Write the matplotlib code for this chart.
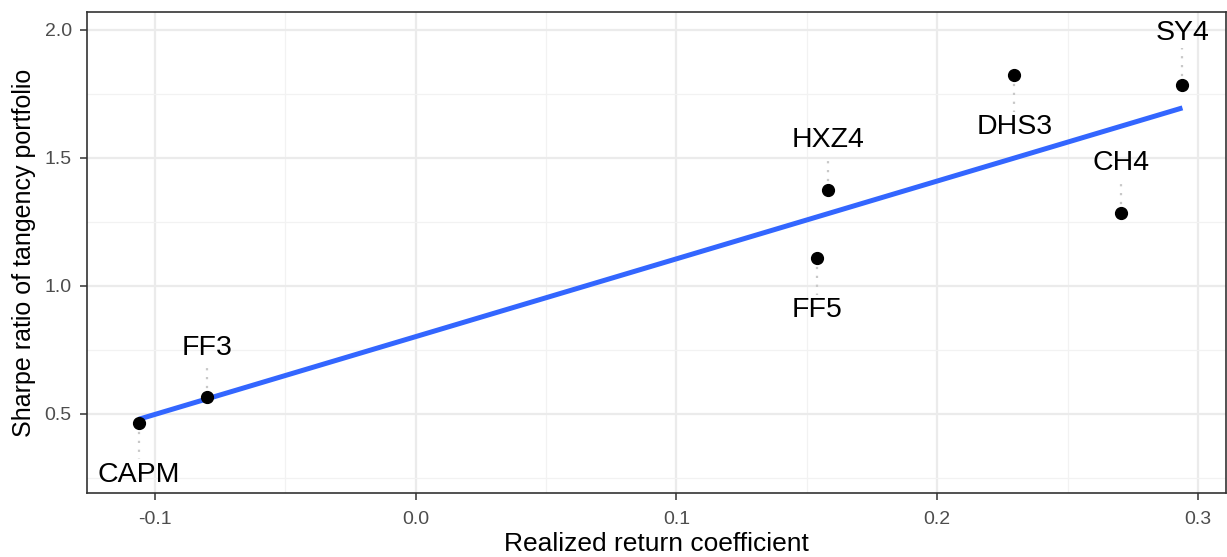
import numpy as np
import matplotlib
matplotlib.use("Agg")
import matplotlib.pyplot as plt
from matplotlib.ticker import MultipleLocator

plt.rcParams['font.family'] = ['Liberation Sans', 'DejaVu Sans']

# factor models: realized return coefficient vs. tangency Sharpe ratio
models = ["CAPM", "FF3", "FF5", "HXZ4", "DHS3", "CH4", "SY4"]
realized_coef = [-0.106, -0.080, 0.154, 0.158, 0.2295, 0.2705, 0.294]
sharpe = [0.465, 0.566, 1.109, 1.375, 1.824, 1.285, 1.785]
# repelled label heights
label_y = [0.262, 0.758, 0.906, 1.570, 1.621, 1.480, 1.988]

x = np.array(realized_coef)
y = np.array(sharpe)
slope, icpt = np.polyfit(x, y, 1)
xs = np.linspace(x.min(), x.max(), 50)

fig = plt.figure(figsize=(12.27, 5.57), dpi=100)
ax = fig.add_axes([87 / 1227, 1 - 493 / 557, 1139 / 1227, 481 / 557])

ax.set_xlim(-0.126, 0.3107)
ax.set_ylim(0.191, 2.070)
ax.xaxis.set_major_locator(MultipleLocator(0.1))
ax.xaxis.set_minor_locator(MultipleLocator(0.05))
ax.yaxis.set_major_locator(MultipleLocator(0.5))
ax.yaxis.set_minor_locator(MultipleLocator(0.25))
ax.grid(True, which='major', color='#EBEBEB', linewidth=1.6)
ax.grid(True, which='minor', color='#F2F2F2', linewidth=0.9)
ax.set_axisbelow(True)
ax.tick_params(which='minor', length=0)
ax.tick_params(which='major', length=5, width=1.1, color='#333333',
               labelsize=14, labelcolor='#4D4D4D', pad=6)
ax.tick_params(axis='x', pad=8)
ax.xaxis.set_major_formatter(matplotlib.ticker.FormatStrFormatter('%.1f'))
for sp in ax.spines.values():
    sp.set_color('#333333')
    sp.set_linewidth(1.2)

# dotted leader segments to labels
for xi, yi, ly in zip(x, y, label_y):
    gap = 0.06 if ly > yi else -0.06
    ax.plot([xi, xi], [yi, ly - gap], color='#C8C8C8', linestyle=(0, (1, 3)),
            linewidth=1.6, zorder=2)

ax.plot(xs, icpt + slope * xs, color='#3366FF', linewidth=3.6, zorder=3,
        solid_capstyle='butt')
ax.plot(x, y, 'o', color='black', markersize=8.5, zorder=4)

for name, xi, ly in zip(models, x, label_y):
    ax.text(xi, ly, name, ha='center', va='center', fontsize=20.5, zorder=5)

ax.set_xlabel("Realized return coefficient", fontsize=19, labelpad=3)
ax.set_ylabel("Sharpe ratio of tangency portfolio", fontsize=18, labelpad=6)

fig.savefig("out.png", dpi=100)
